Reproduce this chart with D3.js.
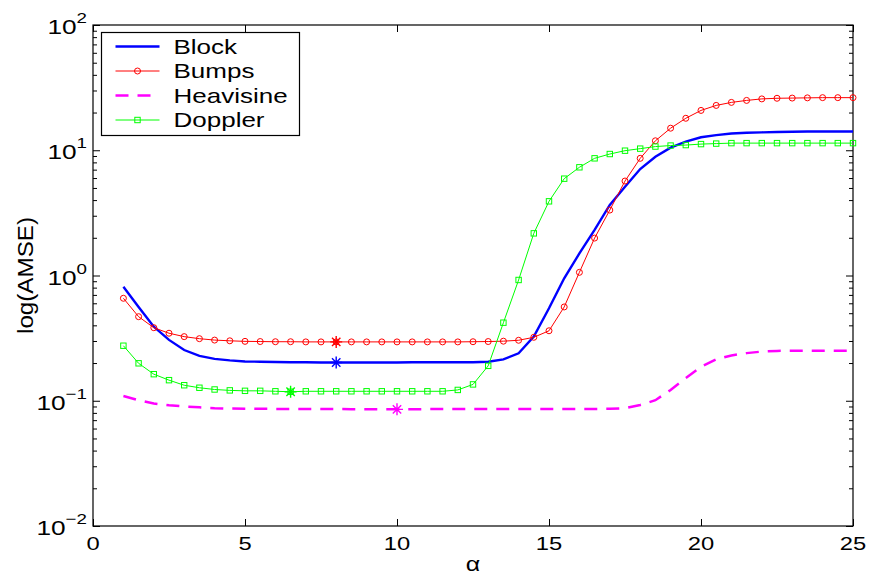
<!DOCTYPE html>
<html>
<head>
<meta charset="utf-8">
<script src="https://cdnjs.cloudflare.com/ajax/libs/d3/7.8.5/d3.min.js"></script>
<style>
  body { margin: 0; background: #fff; }
  text { font-family: "Liberation Sans", Arial, sans-serif; fill: #000; }
</style>
</head>
<body>
<div id="chart"></div>
<script>
const alpha = [1, 1.5, 2, 2.5, 3, 3.5, 4, 4.5, 5, 5.5, 6, 6.5, 7, 7.5, 8, 8.5, 9, 9.5, 10, 10.5,
  11, 11.5, 12, 12.5, 13, 13.5, 14, 14.5, 15, 15.5, 16, 16.5, 17, 17.5, 18, 18.5, 19, 19.5, 20, 20.5,
  21, 21.5, 22, 22.5, 23, 23.5, 24, 24.5, 25];

const block = [0.814, 0.56, 0.39, 0.306, 0.254, 0.228, 0.216, 0.21, 0.206, 0.205,
  0.204, 0.203, 0.203, 0.202, 0.202, 0.202, 0.202, 0.202, 0.202, 0.203,
  0.203, 0.203, 0.203, 0.203, 0.205, 0.214, 0.239, 0.325, 0.547, 0.95,
  1.5, 2.31, 3.66, 5.11, 7.08, 8.88, 10.5, 11.7, 12.7, 13.2,
  13.6, 13.8, 13.9, 14.0, 14.05, 14.1, 14.1, 14.1, 14.1];

const bumps = [0.658, 0.469, 0.383, 0.346, 0.325, 0.313, 0.305, 0.301, 0.298, 0.297,
  0.296, 0.296, 0.295, 0.295, 0.295, 0.295, 0.295, 0.295, 0.295, 0.295,
  0.295, 0.295, 0.295, 0.296, 0.297, 0.299, 0.304, 0.321, 0.362, 0.561,
  1.06, 1.99, 3.33, 5.68, 8.62, 11.9, 15.0, 18.0, 20.8, 22.8,
  24.1, 25.0, 25.7, 26.0, 26.1, 26.2, 26.3, 26.3, 26.3];

const heavisine = [0.109, 0.101, 0.095, 0.092, 0.090, 0.0887, 0.0873, 0.0866, 0.0863, 0.0862,
  0.0861, 0.086, 0.086, 0.0859, 0.0858, 0.0857, 0.0856, 0.0855, 0.0854, 0.0855,
  0.0857, 0.0859, 0.086, 0.086, 0.086, 0.086, 0.086, 0.086, 0.086, 0.086,
  0.086, 0.086, 0.0862, 0.0872, 0.0925, 0.101, 0.122, 0.152, 0.187, 0.214,
  0.230, 0.240, 0.247, 0.250, 0.251, 0.251, 0.251, 0.251, 0.251];

const doppler = [0.275, 0.199, 0.163, 0.146, 0.133, 0.127, 0.123, 0.121, 0.12, 0.12,
  0.119, 0.118, 0.119, 0.119, 0.119, 0.119, 0.119, 0.119, 0.119, 0.119,
  0.119, 0.119, 0.122, 0.135, 0.19, 0.42, 0.921, 2.17, 3.91, 5.93,
  7.31, 8.62, 9.33, 9.92, 10.3, 10.7, 10.9, 11.0, 11.2, 11.3,
  11.4, 11.4, 11.4, 11.4, 11.4, 11.4, 11.4, 11.4, 11.4];

// alpha where each curve has its minimum (star marker)
const minAlpha = { Block: 8, Bumps: 8, Heavisine: 10, Doppler: 6.5 };

const xTicks = [0, 5, 10, 15, 20, 25];
const yDecades = [-2, -1, 0, 1, 2];

const series = [
  { name: "Block", values: block, color: "#0000ff", width: 2.4, dash: null, marker: null },
  { name: "Bumps", values: bumps, color: "#ff0000", width: 1, dash: null, marker: "circle" },
  { name: "Heavisine", values: heavisine, color: "#ff00ff", width: 2.5, dash: "13,9", marker: null },
  { name: "Doppler", values: doppler, color: "#00ff00", width: 1, dash: null, marker: "square" }
];

const margin = { top: 25, right: 18, bottom: 54, left: 93 };
const fullWidth = 871;
const fullHeight = 580;
const width = fullWidth - margin.left - margin.right;
const height = fullHeight - margin.top - margin.bottom;
const stretch = 1.25;

const x = d3.scaleLinear().domain([0, 25]).range([0, width]);
const y = d3.scaleLog().domain([0.01, 100]).range([height, 0]);

const svg = d3.select("#chart")
  .append("svg")
  .attr("width", fullWidth)
  .attr("height", fullHeight)
  .append("g")
  .attr("transform", `translate(${margin.left}, ${margin.top})`);

const majorY = yDecades.map(e => Math.pow(10, e));
const minorY = [];
yDecades.slice(0, -1).forEach(e => {
  for (let k = 2; k <= 9; k++) minorY.push(k * Math.pow(10, e));
});

// ticks (inside, MATLAB style) on all four sides
const addAxis = (axis, tx, ty) => {
  const g = svg.append("g").attr("transform", `translate(${tx}, ${ty})`).call(axis);
  g.select(".domain").remove();
  g.selectAll("line").attr("stroke", "#000");
  g.selectAll("text").remove();
};
addAxis(d3.axisBottom(x).tickValues(xTicks).tickSize(-7), 0, height);
addAxis(d3.axisTop(x).tickValues(xTicks).tickSize(-7), 0, 0);
addAxis(d3.axisLeft(y).tickValues(majorY).tickSize(-7), 0, 0);
addAxis(d3.axisLeft(y).tickValues(minorY).tickSize(-4), 0, 0);
addAxis(d3.axisRight(y).tickValues(majorY).tickSize(-7), width, 0);
addAxis(d3.axisRight(y).tickValues(minorY).tickSize(-4), width, 0);

svg.append("rect")
  .attr("width", width)
  .attr("height", height)
  .attr("fill", "none")
  .attr("stroke", "#000")
  .attr("stroke-width", 1.2);

// x tick labels
svg.selectAll(".xlab")
  .data(xTicks)
  .enter()
  .append("text")
  .attr("class", "xlab")
  .attr("transform", d => `translate(${x(d)}, ${height + 24}) scale(${stretch}, 1)`)
  .attr("text-anchor", "middle")
  .style("font-size", "19px")
  .text(d => d);

// y tick labels 10^e
const ylab = svg.selectAll(".ylab")
  .data(yDecades)
  .enter()
  .append("text")
  .attr("class", "ylab")
  .attr("transform", d => `translate(-6, ${y(Math.pow(10, d)) + 9}) scale(${stretch}, 1)`)
  .attr("text-anchor", "end")
  .style("font-size", "21px");
ylab.append("tspan").text("10");
ylab.append("tspan")
  .attr("dy", -11)
  .style("font-size", "15px")
  .text(d => (d < 0 ? "\u2212" + Math.abs(d) : d));

// axis titles
svg.append("text")
  .attr("transform", `translate(${width / 2}, ${height + 45}) scale(${stretch}, 1)`)
  .attr("text-anchor", "middle")
  .style("font-size", "20px")
  .text("\u03b1");

svg.append("text")
  .attr("transform", `translate(-60, ${height / 2}) rotate(-90) scale(1.1, 1)`)
  .attr("text-anchor", "middle")
  .style("font-size", "22px")
  .text("log(AMSE)");

// curves
const line = d3.line()
  .x((d, i) => x(alpha[i]))
  .y(d => y(d));

const star = (g, cx, cy, color) => {
  const r = 6;
  const p = d3.path();
  p.moveTo(cx - r, cy); p.lineTo(cx + r, cy);
  p.moveTo(cx, cy - r); p.lineTo(cx, cy + r);
  p.moveTo(cx - r * 0.7, cy - r * 0.7); p.lineTo(cx + r * 0.7, cy + r * 0.7);
  p.moveTo(cx - r * 0.7, cy + r * 0.7); p.lineTo(cx + r * 0.7, cy - r * 0.7);
  g.append("path").attr("d", p.toString()).attr("stroke", color).attr("stroke-width", 1.4).attr("fill", "none");
};

const drawMarker = (g, type, cx, cy, color) => {
  if (type === "circle") {
    g.append("circle").attr("cx", cx).attr("cy", cy).attr("r", 3)
      .attr("fill", "none").attr("stroke", color).attr("stroke-width", 1);
  } else if (type === "square") {
    g.append("rect").attr("x", cx - 2.7).attr("y", cy - 2.7).attr("width", 5.4).attr("height", 5.4)
      .attr("fill", "none").attr("stroke", color).attr("stroke-width", 1);
  }
};

series.forEach(s => {
  const g = svg.append("g");
  g.append("path")
    .datum(s.values)
    .attr("d", line)
    .attr("fill", "none")
    .attr("stroke", s.color)
    .attr("stroke-width", s.width)
    .attr("stroke-dasharray", s.dash);
  if (s.marker) {
    s.values.forEach((v, i) => drawMarker(g, s.marker, x(alpha[i]), y(v), s.color));
  }
  const mi = alpha.indexOf(minAlpha[s.name]);
  star(g, x(alpha[mi]), y(s.values[mi]), s.color);
});

// legend
const legend = svg.append("g").attr("transform", "translate(8.5, 7.5)");
legend.append("rect")
  .attr("width", 198)
  .attr("height", 103)
  .attr("fill", "#fff")
  .attr("stroke", "#000")
  .attr("stroke-width", 1.2);

series.forEach((s, i) => {
  const ly = 14 + i * 24.5;
  legend.append("line")
    .attr("x1", 14).attr("x2", 58)
    .attr("y1", ly).attr("y2", ly)
    .attr("stroke", s.color)
    .attr("stroke-width", s.width)
    .attr("stroke-dasharray", s.dash);
  if (s.marker) drawMarker(legend, s.marker, 36, ly, s.color);
  legend.append("text")
    .attr("transform", `translate(72, ${ly + 7}) scale(1.3, 1)`)
    .style("font-size", "20px")
    .text(s.name);
});
</script>
</body>
</html>
